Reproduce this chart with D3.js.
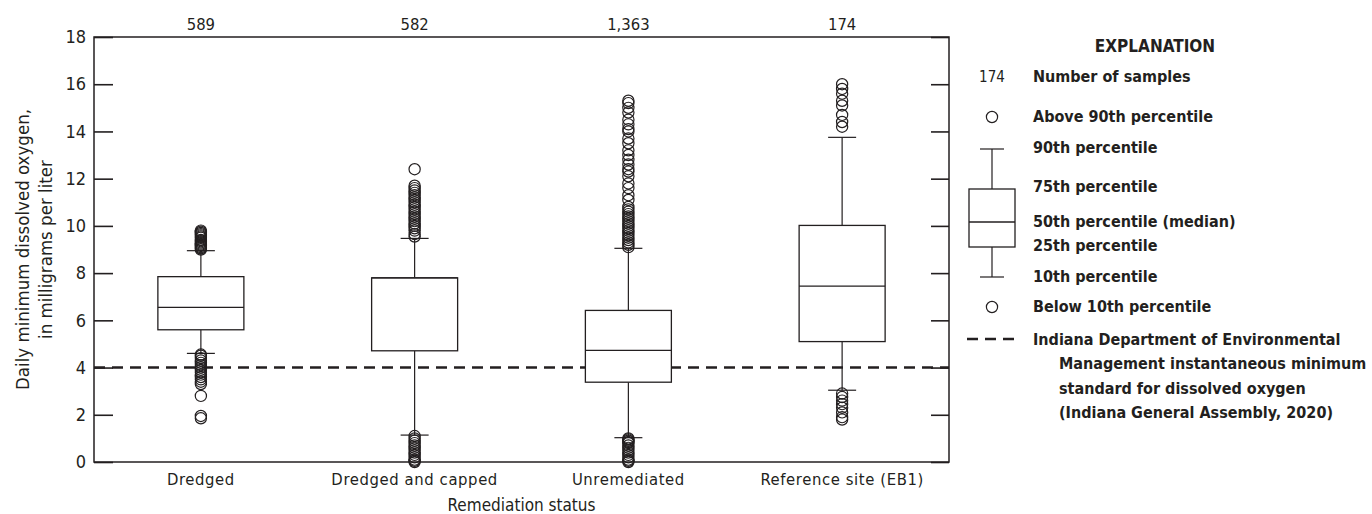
<!DOCTYPE html>
<html>
<head>
<meta charset="utf-8">
<script src="https://cdn.jsdelivr.net/npm/d3@7"></script>
<style>
  body { margin: 0; background: #fff; }
  svg text { font-family: "Liberation Sans Narrow", "Arial Narrow", "DejaVu Sans Condensed", sans-serif; fill: #231f20; }
</style>
</head>
<body>
<script>
const width = 1372;
const height = 514;
const margin = { top: 37, right: 423, bottom: 52, left: 94 };

// categories and sample counts
const categorias = ["Dredged", "Dredged and capped", "Unremediated", "Reference site (EB1)"];
const conteos = ["589", "582", "1,363", "174"];

// box statistics: 10th, 25th, 50th, 75th, 90th percentiles (mg/L)
const p10 = [4.6, 1.14, 1.03, 3.04];
const p25 = [5.6, 4.71, 3.38, 5.1];
const p50 = [6.55, 7.8, 4.73, 7.45];
const p75 = [7.85, 7.8, 6.42, 10.02];
const p90 = [8.95, 9.47, 9.05, 13.75];

// outliers
const arribaDredged = [9.0, 9.05, 9.1, 9.15, 9.2, 9.25, 9.3, 9.35, 9.4, 9.5, 9.55, 9.6, 9.65, 9.7, 9.75, 9.8];
const abajoDredged = [4.55, 4.5, 4.4, 4.3, 4.2, 4.1, 4.0, 3.9, 3.8, 3.7, 3.6, 3.5, 3.4, 3.3, 2.8, 1.95, 1.85];
const arribaCapped = [9.55, 9.65, 9.8, 9.9, 10.0, 10.1, 10.2, 10.3, 10.4, 10.5, 10.6, 10.7, 10.8, 10.9, 11.0, 11.1, 11.2, 11.3, 11.4, 11.5, 11.6, 11.7, 12.4];
const abajoCapped = [1.1, 1.0, 0.9, 0.8, 0.7, 0.6, 0.5, 0.4, 0.3, 0.2, 0.1, 0.05, 0.0];
const arribaUnrem = [9.1, 9.2, 9.3, 9.4, 9.5, 9.6, 9.7, 9.8, 9.9, 10.0, 10.1, 10.2, 10.3, 10.4, 10.5, 10.6, 10.7, 10.8, 11.1, 11.3, 11.6, 11.8, 12.1, 12.3, 12.4, 12.6, 12.8, 13.0, 13.2, 13.5, 13.7, 14.0, 14.1, 14.3, 14.5, 14.8, 15.0, 15.2, 15.3];
const abajoUnrem = [1.0, 0.95, 0.9, 0.85, 0.8, 0.7, 0.6, 0.5, 0.4, 0.3, 0.2, 0.1, 0.05, 0.0];
const arribaRef = [14.2, 14.4, 14.7, 15.1, 15.3, 15.6, 15.8, 16.0];
const abajoRef = [2.9, 2.75, 2.6, 2.45, 2.3, 2.1, 1.9, 1.8];

const valoresAtipicos = [
  arribaDredged.concat(abajoDredged),
  arribaCapped.concat(abajoCapped),
  arribaUnrem.concat(abajoUnrem),
  arribaRef.concat(abajoRef),
];

const estandar = 4;
const ticksY = [0, 2, 4, 6, 8, 10, 12, 14, 16, 18];

const ancho = width - margin.left - margin.right;
const alto = height - margin.top - margin.bottom;

const datos = categorias.map((nombre, i) => ({
  nombre,
  n: conteos[i],
  p10: p10[i], p25: p25[i], p50: p50[i], p75: p75[i], p90: p90[i],
  atipicos: valoresAtipicos[i],
}));

const svg = d3.select("body").append("svg")
  .attr("width", width)
  .attr("height", height);

const contenedor = svg.append("g")
  .attr("transform", `translate(${margin.left}, ${margin.top})`);

const escalaX = d3.scaleBand().domain(categorias).range([0, ancho]).padding(0);
const escalaY = d3.scaleLinear().domain([0, 18]).range([alto, 0]);

const colorLinea = "#231f20";
const cajaAncho = 86;
const bigote = 28;

// axes
const ejeY = d3.axisLeft(escalaY).tickValues(ticksY).tickSize(-19).tickPadding(8);
const ejeYder = d3.axisRight(escalaY).tickValues(ticksY).tickSize(-18).tickFormat("");
const ejeX = d3.axisBottom(escalaX).tickSize(0).tickPadding(11);

const gY = contenedor.append("g").call(ejeY);
gY.selectAll("text").style("font-size", "18px");
const gYder = contenedor.append("g").attr("transform", `translate(${ancho}, 0)`).call(ejeYder);
const gX = contenedor.append("g").attr("transform", `translate(0, ${alto})`).call(ejeX);
gX.selectAll("text").style("font-size", "16.5px").style("letter-spacing", "0.6px");

[gY, gYder, gX].forEach((g) => {
  g.select(".domain").remove();
  g.selectAll("line").attr("stroke", colorLinea).attr("stroke-width", 1.6);
});

// frame
contenedor.append("rect")
  .attr("width", ancho).attr("height", alto)
  .attr("fill", "none").attr("stroke", colorLinea).attr("stroke-width", 1.5);

// standard line
contenedor.append("line")
  .attr("x1", 0).attr("x2", ancho)
  .attr("y1", escalaY(estandar)).attr("y2", escalaY(estandar))
  .attr("stroke", colorLinea).attr("stroke-width", 2.6)
  .attr("stroke-dasharray", "11 7");

const cajas = contenedor.selectAll(".caja").data(datos).join("g")
  .attr("class", "caja")
  .attr("transform", (d) => `translate(${escalaX(d.nombre) + escalaX.bandwidth() / 2}, 0)`);

cajas.append("line")
  .attr("y1", (d) => escalaY(d.p90)).attr("y2", (d) => escalaY(d.p75))
  .attr("stroke", colorLinea).attr("stroke-width", 1.2);
cajas.append("line")
  .attr("y1", (d) => escalaY(d.p25)).attr("y2", (d) => escalaY(d.p10))
  .attr("stroke", colorLinea).attr("stroke-width", 1.2);
cajas.append("line")
  .attr("x1", -bigote / 2).attr("x2", bigote / 2)
  .attr("y1", (d) => escalaY(d.p90)).attr("y2", (d) => escalaY(d.p90))
  .attr("stroke", colorLinea).attr("stroke-width", 1.2);
cajas.append("line")
  .attr("x1", -bigote / 2).attr("x2", bigote / 2)
  .attr("y1", (d) => escalaY(d.p10)).attr("y2", (d) => escalaY(d.p10))
  .attr("stroke", colorLinea).attr("stroke-width", 1.2);
cajas.append("rect")
  .attr("x", -cajaAncho / 2).attr("width", cajaAncho)
  .attr("y", (d) => escalaY(d.p75))
  .attr("height", (d) => escalaY(d.p25) - escalaY(d.p75))
  .attr("fill", "#fff").attr("stroke", colorLinea).attr("stroke-width", 1.3);
cajas.append("line")
  .attr("x1", -cajaAncho / 2).attr("x2", cajaAncho / 2)
  .attr("y1", (d) => escalaY(d.p50)).attr("y2", (d) => escalaY(d.p50))
  .attr("stroke", colorLinea).attr("stroke-width", 1.3);

cajas.selectAll("circle").data((d) => d.atipicos).join("circle")
  .attr("cy", (v) => escalaY(v))
  .attr("r", 5.6)
  .attr("fill", "none")
  .attr("stroke", colorLinea).attr("stroke-width", 1.2);

// sample counts above the plot
contenedor.selectAll(".conteo").data(datos).join("text")
  .attr("class", "conteo")
  .attr("x", (d) => escalaX(d.nombre) + escalaX.bandwidth() / 2)
  .attr("y", -7)
  .attr("text-anchor", "middle")
  .style("font-size", "16.5px")
  .text((d) => d.n);

// axis titles
contenedor.append("text")
  .attr("x", ancho / 2).attr("y", alto + 49)
  .attr("text-anchor", "middle")
  .style("font-size", "17px")
  .text("Remediation status");

const tituloY = svg.append("g")
  .attr("transform", `translate(0, ${margin.top + alto / 2}) rotate(-90)`);
tituloY.append("text").attr("x", 0).attr("y", 29)
  .attr("text-anchor", "middle").style("font-size", "18.5px")
  .text("Daily minimum dissolved oxygen,");
tituloY.append("text").attr("x", 0).attr("y", 52)
  .attr("text-anchor", "middle").style("font-size", "18.5px")
  .text("in milligrams per liter");

// explanation
const leyenda = svg.append("g");
const simX = 992;
const textoX = 1033;

leyenda.append("text").attr("x", 1155).attr("y", 52)
  .attr("text-anchor", "middle").style("font-size", "17px").style("font-weight", "bold")
  .text("EXPLANATION");

leyenda.append("text").attr("x", simX).attr("y", 82)
  .attr("text-anchor", "middle").style("font-size", "15px")
  .text("174");

leyenda.append("circle").attr("cx", simX).attr("cy", 117).attr("r", 5.6)
  .attr("fill", "none").attr("stroke", colorLinea).attr("stroke-width", 1.2);
leyenda.append("circle").attr("cx", simX).attr("cy", 307).attr("r", 5.6)
  .attr("fill", "none").attr("stroke", colorLinea).attr("stroke-width", 1.2);

leyenda.append("line").attr("x1", simX).attr("x2", simX).attr("y1", 149).attr("y2", 189)
  .attr("stroke", colorLinea).attr("stroke-width", 1.2);
leyenda.append("line").attr("x1", simX).attr("x2", simX).attr("y1", 247).attr("y2", 277)
  .attr("stroke", colorLinea).attr("stroke-width", 1.2);
leyenda.append("line").attr("x1", simX - 12).attr("x2", simX + 12).attr("y1", 149).attr("y2", 149)
  .attr("stroke", colorLinea).attr("stroke-width", 1.2);
leyenda.append("line").attr("x1", simX - 12).attr("x2", simX + 12).attr("y1", 277).attr("y2", 277)
  .attr("stroke", colorLinea).attr("stroke-width", 1.2);
leyenda.append("rect").attr("x", simX - 23).attr("y", 189).attr("width", 46).attr("height", 58)
  .attr("fill", "#fff").attr("stroke", colorLinea).attr("stroke-width", 1.3);
leyenda.append("line").attr("x1", simX - 23).attr("x2", simX + 23).attr("y1", 222).attr("y2", 222)
  .attr("stroke", colorLinea).attr("stroke-width", 1.3);
leyenda.append("line").attr("x1", simX - 25).attr("x2", simX + 22).attr("y1", 339).attr("y2", 339)
  .attr("stroke", colorLinea).attr("stroke-width", 2.6).attr("stroke-dasharray", "11 7");

const filas = [
  ["Number of samples", textoX, 82],
  ["Above 90th percentile", textoX, 122],
  ["90th percentile", textoX, 153],
  ["75th percentile", textoX, 192],
  ["50th percentile (median)", textoX, 227],
  ["25th percentile", textoX, 251],
  ["10th percentile", textoX, 282],
  ["Below 10th percentile", textoX, 312],
  ["Indiana Department of Environmental", textoX, 345],
  ["Management instantaneous minimum", 1059, 369],
  ["standard for dissolved oxygen", 1059, 394],
  ["(Indiana General Assembly, 2020)", 1059, 418],
];
leyenda.selectAll(".fila").data(filas).join("text")
  .attr("class", "fila")
  .attr("x", (d) => d[1]).attr("y", (d) => d[2])
  .style("font-size", "16px").style("font-weight", "bold")
  .text((d) => d[0]);
</script>
</body>
</html>
